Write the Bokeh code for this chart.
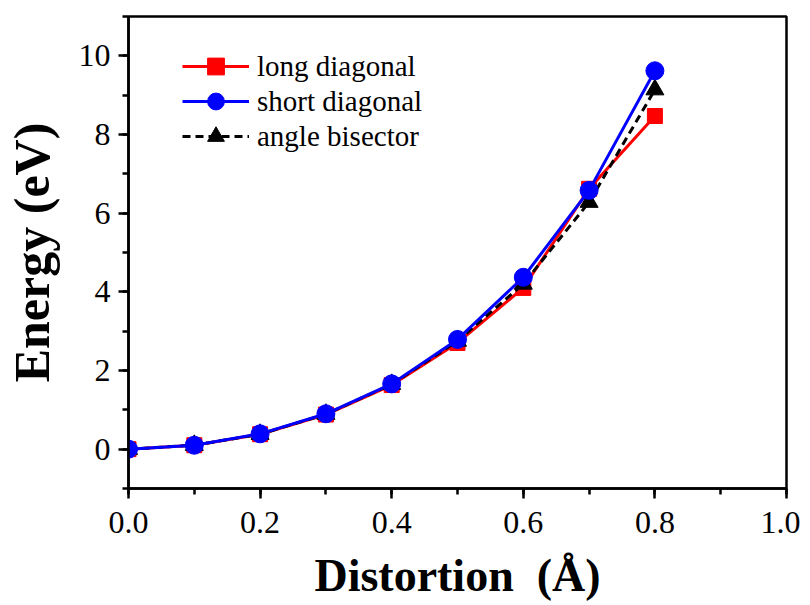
from bokeh.plotting import figure
from bokeh.models import Range1d, SingleIntervalTicker, Legend, LegendItem, PrintfTickFormatter
from bokeh.embed import file_html
from bokeh.resources import INLINE

distortion = [0.0, 0.1, 0.2, 0.3, 0.4, 0.5, 0.6, 0.7, 0.8]
long_diag = [0.0, 0.1, 0.38, 0.88, 1.63, 2.70, 4.10, 6.62, 8.47]
short_diag = [0.0, 0.1, 0.39, 0.90, 1.66, 2.79, 4.37, 6.58, 9.62]
angle_bis = [0.0, 0.1, 0.38, 0.89, 1.65, 2.75, 4.20, 6.28, 9.14]
series_labels = ["long diagonal", "short diagonal", "angle bisector"]

FONT = "Liberation Serif"

p = figure(width=800, height=603, output_backend="svg", toolbar_location=None,
           x_range=Range1d(0, 1.0), y_range=Range1d(-1, 11),
           min_border_left=126, min_border_right=14, min_border_top=16, min_border_bottom=112)

p.xgrid.visible = False
p.ygrid.visible = False
p.outline_line_color = "black"
p.outline_line_width = 2.5
p.background_fill_color = "white"
p.border_fill_color = "white"

p.xaxis.ticker = SingleIntervalTicker(interval=0.2, num_minor_ticks=2)
p.yaxis.ticker = SingleIntervalTicker(interval=2, num_minor_ticks=2)
p.xaxis.formatter = PrintfTickFormatter(format="%.1f")

for ax in (p.xaxis[0], p.yaxis[0]):
    ax.axis_line_width = 2.5
    ax.axis_line_color = "black"
    ax.major_tick_line_width = 2.5
    ax.minor_tick_line_width = 2.5
    ax.major_tick_out = 10
    ax.major_tick_in = 0
    ax.minor_tick_out = 6
    ax.minor_tick_in = 0
    ax.major_label_text_font = FONT
    ax.major_label_text_font_size = "32px"
    ax.major_label_text_color = "black"
    ax.axis_label_text_font = FONT
    ax.axis_label_text_font_style = "bold"
    ax.axis_label_text_color = "black"

p.xaxis.axis_label_text_font_size = "46px"
p.yaxis.axis_label_text_font_size = "50px"
p.xaxis.axis_label = "Distortion \u00a0(\u00c5)"
p.yaxis.axis_label = "Energy (eV)"
p.xaxis.major_label_standoff = 13
p.yaxis.major_label_standoff = 8
p.xaxis.axis_label_standoff = 14
p.yaxis.axis_label_standoff = 16

r_line = p.line(distortion, long_diag, line_color="#ff0000", line_width=3)
r_sq = p.scatter(distortion, long_diag, marker="square", size=15, fill_color="#ff0000", line_color="#ff0000")
k_line = p.line(distortion, angle_bis, line_color="black", line_width=3, line_dash="8 5")
k_tri = p.scatter(distortion, angle_bis, marker="triangle", size=18, fill_color="black", line_color="black")
b_line = p.line(distortion, short_diag, line_color="#0000ff", line_width=3)
b_ci = p.scatter(distortion, short_diag, marker="circle", size=18, fill_color="#0000ff", line_color="#0000ff")

entries = [
    (series_labels[0], [r_line, r_sq], 401),
    (series_labels[1], [b_line, b_ci], 366),
    (series_labels[2], [k_line, k_tri], 331),
]
for label, rends, ypos in entries:
    legend = Legend(items=[LegendItem(label=label, renderers=rends)], location=(54, ypos))
    legend.glyph_width = 67
    legend.glyph_height = 42
    legend.label_height = 42
    legend.spacing = 0
    legend.padding = 0
    legend.margin = 0
    legend.label_standoff = 8
    legend.border_line_color = None
    legend.background_fill_alpha = 0
    legend.label_text_font = FONT
    legend.label_text_font_size = "29px"
    legend.label_text_color = "black"
    p.add_layout(legend, "center")

open("out.html", "w").write(file_html(p, INLINE))
